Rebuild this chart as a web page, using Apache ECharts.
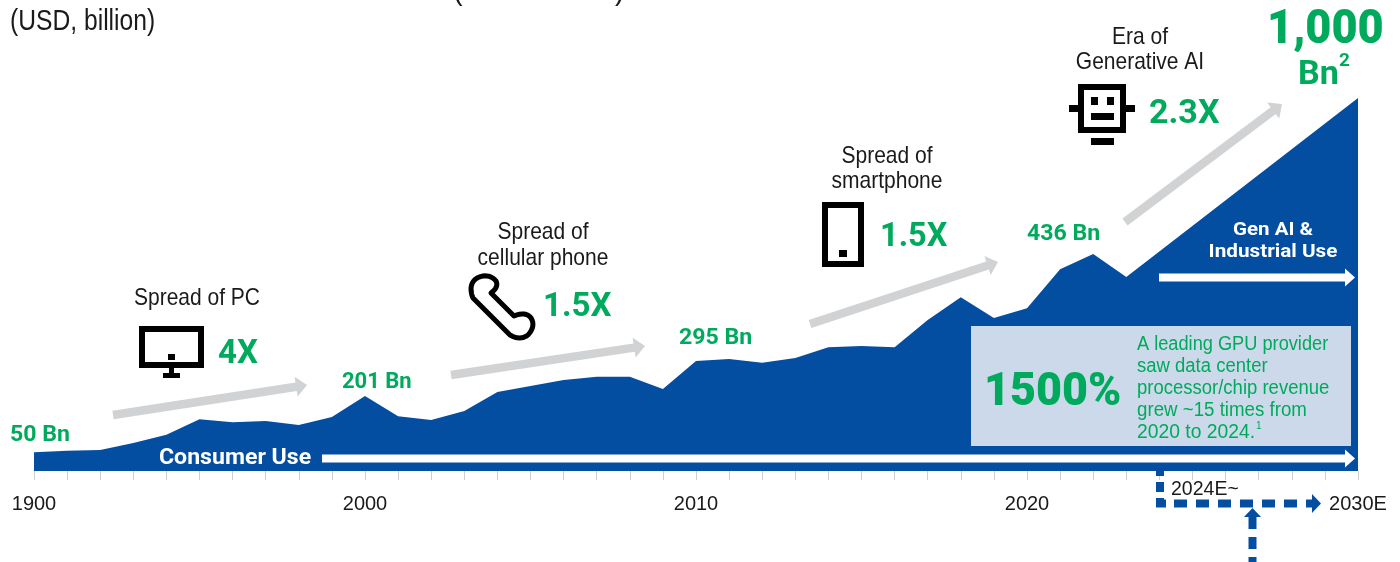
<!DOCTYPE html>
<html>
<head>
<meta charset="utf-8">
<style>html,body{margin:0;padding:0;background:#fff}#chart{width:1400px;height:562px}</style>
<script src="https://cdn.jsdelivr.net/npm/echarts@6/dist/echarts.min.js"></script>
</head>
<body>
<div id="chart"></div>
<script>
// Semiconductor market size, USD billion
const years = [1990,1991,1992,1993,1994,1995,1996,1997,1998,1999,
               2000,2001,2002,2003,2004,2005,2006,2007,2008,2009,
               2010,2011,2012,2013,2014,2015,2016,2017,2018,2019,
               2020,2021,2022,2023,2030];
const marketSize = [50,54,56,75,97,139,131,134,123,145,
                    201,147,137,161,212,228,244,253,253,220,
                    295,300,290,303,332,335,332,405,466,410,
                    436,541,582,520,1000];
const tickLabels = {1990:'1900',2000:'2000',2010:'2010',2020:'2020',2030:'2030E'};

const BLUE = '#044ea1', GREEN = '#00aa5c', GREY = '#d1d2d4', INK = '#1a1a1a';
const BODY = '"Liberation Sans",sans-serif';
const BOLD = 'Roboto,"Liberation Sans",sans-serif';

// Text element; sx squeezes or widens it around its anchor
const text = (x, y, s, size, fill, sx = 1, opts = {}) => ({
  type: 'text', x, y, z: 20, scaleX: sx,
  style: Object.assign({
    text: s, fontSize: size, fill, fontFamily: BODY,
    align: 'left', verticalAlign: 'middle'
  }, opts)
});
const condensed = (x, y, s) => text(x, y, s, 24, INK, 0.875, {align: 'center'});
const boldGreen = (x, y, s, size, sx = 1, weight = 700) =>
  text(x, y, s, size, GREEN, sx, {fontFamily: BOLD, fontWeight: weight});
const boldWhite = (x, y, s, size, sx, align) =>
  text(x, y, s, size, '#fff', sx, {fontFamily: BOLD, fontWeight: 700, align});

// Straight arrow with a triangular head, tail to tip
function arrow(x0, y0, x1, y1, w, headW, headL, fill) {
  const L = Math.hypot(x1 - x0, y1 - y0), ux = (x1 - x0) / L, uy = (y1 - y0) / L;
  const nx = -uy, ny = ux, bx = x1 - ux * headL, by = y1 - uy * headL;
  return {
    type: 'polygon', z: 15,
    shape: {points: [
      [x0 + nx * w / 2, y0 + ny * w / 2], [bx + nx * w / 2, by + ny * w / 2],
      [bx + nx * headW / 2, by + ny * headW / 2], [x1, y1],
      [bx - nx * headW / 2, by - ny * headW / 2], [bx - nx * w / 2, by - ny * w / 2],
      [x0 - nx * w / 2, y0 - ny * w / 2]
    ]},
    style: {fill}
  };
}
const block = (x, y, w, h, fill = '#000') =>
  ({type: 'rect', z: 15, shape: {x, y, width: w, height: h}, style: {fill}});
const frame = (x, y, w, h, lw) =>
  ({type: 'rect', z: 15, shape: {x: x + lw / 2, y: y + lw / 2, width: w - lw, height: h - lw},
    style: {fill: '#fff', stroke: '#000', lineWidth: lw}});
const triangle = (points, fill) => ({type: 'polygon', z: 15, shape: {points}, style: {fill}});

// Handset outline: straight edges with quadratic corners flattened to points
function handsetOutline() {
  const segs = [
    [[473,298],[510,335]], [[510,335],[520,341],[528,335]], [[528,335],[536,326],[531,318]],
    [[531,318],[526,311],[514,316]], [[514,316],[491,293]], [[491,293],[499,287],[496,281]],
    [[496,281],[491,275],[483,276]], [[483,276],[472,278],[471,288]], [[471,288],[471,294],[473,298]]
  ];
  const pts = [];
  segs.forEach(s => {
    if (s.length === 2) { pts.push(s[0]); return; }
    for (let t = 0; t < 1; t += 0.125) {
      const a = (1 - t) * (1 - t), b = 2 * t * (1 - t), c = t * t;
      pts.push([a * s[0][0] + b * s[1][0] + c * s[2][0], a * s[0][1] + b * s[1][1] + c * s[2][1]]);
    }
  });
  return pts;
}

const annotations = [
  // Header, running off the top edge
  text(10, -8.5, 'Global semiconductor market trend (1990-2030E)', 29, INK, 0.965),
  text(10, 22, '(USD, billion)', 29, INK, 0.85),

  // Growth arrows
  arrow(113, 415, 307, 385, 8.5, 20, 11, GREY),
  arrow(451, 375, 645, 346, 8.5, 20, 11, GREY),
  arrow(810, 324, 998, 262, 8.5, 20, 11, GREY),
  arrow(1125, 222, 1282, 104, 8.5, 20, 11, GREY),

  // PC
  frame(139, 326, 65, 42, 6), block(168, 354, 7, 6),
  block(169, 368, 5, 6), block(163, 373, 17, 5),
  // Handset
  {type: 'polygon', z: 15, shape: {points: handsetOutline()},
    style: {fill: '#fff', stroke: '#000', lineWidth: 5, lineJoin: 'round'}},
  // Smartphone
  frame(822, 202, 42, 65, 6), block(839, 250, 8, 7),
  // Robot
  frame(1078, 84, 48, 49, 6), block(1091, 97, 7, 8), block(1107, 97, 7, 8),
  block(1091, 113, 23, 7), block(1069, 105, 9, 7), block(1126, 105, 9, 7),
  block(1091, 138, 23, 7),

  // Era captions
  condensed(197, 298, 'Spread of PC'),
  condensed(543, 232, 'Spread of'),
  condensed(543, 258, 'cellular phone'),
  condensed(887, 156, 'Spread of'),
  condensed(887, 181, 'smartphone'),
  condensed(1140, 37, 'Era of'),
  condensed(1140, 62, 'Generative AI'),

  // Growth multiples
  boldGreen(218, 355, '4X', 33),
  boldGreen(543, 308, '1.5X', 33),
  boldGreen(880, 238, '1.5X', 32.5),
  boldGreen(1149, 114, '2.3X', 34),

  // Market size call-outs
  boldGreen(10, 435, '50 Bn', 22, 1.05),
  boldGreen(342, 382, '201 Bn', 22),
  boldGreen(679, 338, '295 Bn', 22, 1.05),
  boldGreen(1027, 234, '436 Bn', 22, 1.05),
  boldGreen(1267, 31, '1,000', 48, 0.94, 900),
  boldGreen(1298, 75, 'Bn', 34),
  boldGreen(1339, 61, '2', 19),

  // Use bands inside the area
  boldWhite(159, 458, 'Consumer Use', 22, 1.05, 'left'),
  arrow(322, 458.5, 1355, 458.5, 8, 18, 10, '#fff'),
  boldWhite(1273, 230, 'Gen AI &', 19, 1.08, 'center'),
  boldWhite(1273, 252, 'Industrial Use', 19, 1.09, 'center'),
  arrow(1159, 277.5, 1355, 277.5, 8, 18, 10, '#fff'),

  // GPU call-out box
  block(971, 326, 380, 120, '#cbd9ea'),
  boldGreen(984, 393, '1500%', 47, 0.955, 900),
  text(1137, 344, 'A leading GPU provider', 20, GREEN, 0.91),
  text(1137, 366, 'saw data center', 20, GREEN, 0.925),
  text(1137, 388, 'processor/chip revenue', 20, GREEN, 0.925),
  text(1137, 410, 'grew ~15 times from', 20, GREEN, 0.935),
  text(1137, 432, '2020 to 2024.', 20, GREEN, 0.965),
  text(1256, 426, '1', 10, GREEN),

  // Forecast period bracket
  block(1156, 471, 8, 5, BLUE), block(1156, 482, 8, 10, BLUE),
  block(1156, 498, 8, 9, BLUE), block(1156, 499.5, 10, 8, BLUE),
  ...[1174, 1196, 1218, 1240, 1262, 1284].map(x => block(x, 499.5, 13, 8, BLUE)),
  block(1306, 499.5, 7, 8, BLUE),
  triangle([[1312, 494], [1321, 503.5], [1312, 513]], BLUE),
  triangle([[1244, 517], [1252.5, 508], [1261, 517]], BLUE),
  block(1248.5, 517, 8, 12, BLUE), block(1248.5, 537, 8, 12, BLUE), block(1248.5, 557, 8, 5, BLUE),
  text(1171, 490, '2024E~', 19.5, INK)
];

const chart = echarts.init(document.getElementById('chart'), null, {renderer: 'canvas'});
chart.setOption({
  animation: false,
  backgroundColor: '#fff',
  grid: {left: 34, right: 42, top: 98, bottom: 91},
  xAxis: {
    type: 'value', min: 1990, max: 2030, interval: 10,
    splitLine: {show: false},
    axisLine: {show: false},
    axisTick: {show: true, length: 9, lineStyle: {color: '#cfcfcf', width: 1}},
    minorTick: {show: true, splitNumber: 10, length: 9, lineStyle: {color: '#cfcfcf', width: 1}},
    axisLabel: {
      margin: 23, fontSize: 20, color: INK, fontFamily: BODY,
      showMinLabel: true, showMaxLabel: true,
      formatter: v => tickLabels[v] || ''
    }
  },
  yAxis: {type: 'value', min: 0, max: 1000, show: false, splitLine: {show: false}},
  series: [{
    type: 'line',
    data: years.map((y, i) => [y, marketSize[i]]),
    symbol: 'none', smooth: false,
    lineStyle: {width: 0},
    areaStyle: {color: BLUE, opacity: 1}
  }],
  graphic: annotations
});
</script>
</body>
</html>
